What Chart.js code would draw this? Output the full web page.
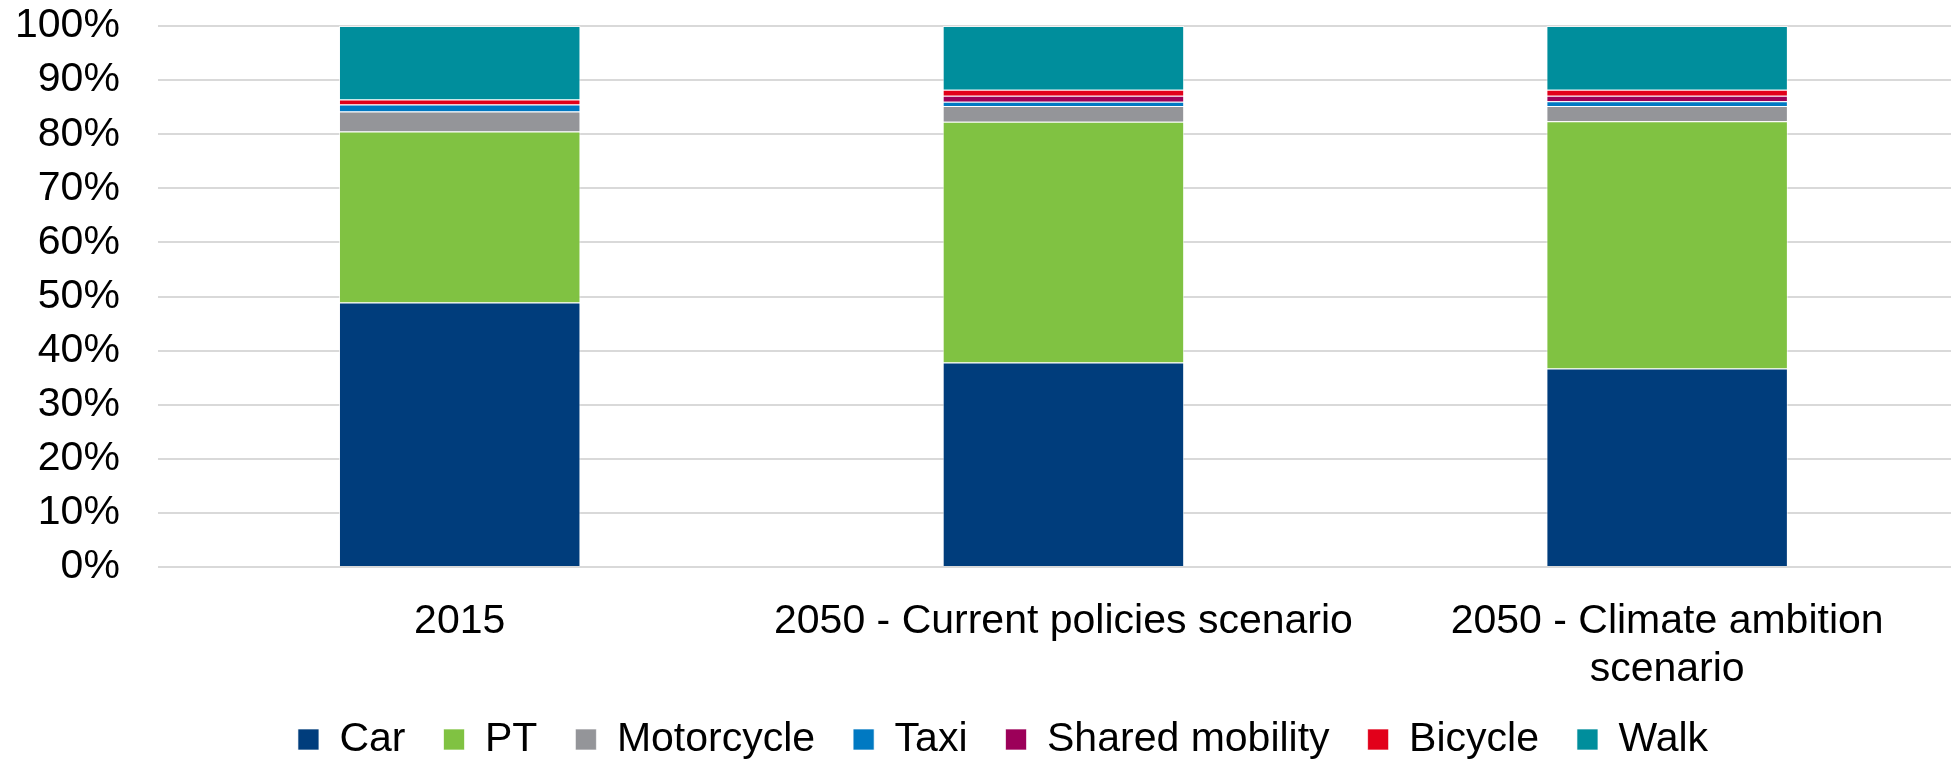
<!DOCTYPE html>
<html>
<head>
<meta charset="utf-8">
<script src="https://cdn.jsdelivr.net/npm/chart.js@4"></script>
<style>
  html, body { margin: 0; padding: 0; background: #ffffff; overflow: hidden; }
  #wrap { position: relative; width: 2006px; height: 770px; }
</style>
</head>
<body>
<div id="wrap"><canvas id="chart"></canvas></div>
<script>
// Mode share of trips (% of total), by scenario
const categories = ['2015', '2050 - Current policies scenario', ['2050 - Climate ambition', 'scenario']];
const car        = [48.9, 37.8, 36.7];
const pt         = [31.6, 44.5, 45.7];
const motorcycle = [3.7, 2.9, 2.8];
const taxi       = [1.3, 0.8, 0.9];
const shared     = [0.0, 1.1, 1.0];
const bicycle    = [0.9, 1.1, 1.1];
const walk       = [13.6, 11.8, 11.8];
const yTicks     = [0, 10, 20, 30, 40, 50, 60, 70, 80, 90, 100];

const FONT = "'Liberation Sans', Arial, sans-serif";

function series(label, data, color) {
  return {
    label, data,
    backgroundColor: color,
    borderColor: 'rgba(255,255,255,0.65)',
    borderWidth: 1,
    categoryPercentage: 0.8,
    barPercentage: 0.5
  };
}

// Centre the legend row on the whole figure rather than on the padded box
const legendCentre = {
  id: 'legendCentre',
  afterLayout(chart) {
    const lg = chart.legend;
    if (lg) { lg.left += 11; lg.right += 11; }
  }
};

new Chart(document.getElementById('chart'), {
  type: 'bar',
  data: {
    labels: categories,
    datasets: [
      series('Car', car, '#003d7c'),
      series('PT', pt, '#80c242'),
      series('Motorcycle', motorcycle, '#949599'),
      series('Taxi', taxi, '#0079c2'),
      series('Shared mobility', shared, '#9c0059'),
      series('Bicycle', bicycle, '#e2001a'),
      series('Walk', walk, '#008e9c')
    ]
  },
  plugins: [legendCentre],
  options: {
    responsive: true,
    maintainAspectRatio: false,
    animation: false,
    layout: { padding: { left: 15, right: 37, top: 26, bottom: 0 } },
    plugins: {
      tooltip: { enabled: false },
      legend: {
        position: 'bottom',
        labels: {
          boxWidth: 21,
          boxHeight: 21,
          padding: 38,
          color: '#000000',
          font: { family: FONT, size: 41 }
        }
      }
    },
    scales: {
      x: {
        stacked: true,
        grid: {
          display: true,
          drawOnChartArea: false,
          color: 'rgba(0,0,0,0)',
          tickColor: 'rgba(0,0,0,0)',
          drawTicks: true,
          tickLength: 31
        },
        border: { display: false },
        afterFit: (axis) => { axis.height = 114; },
        ticks: {
          color: '#000000',
          font: { family: FONT, size: 41, lineHeight: 1.17 },
          maxRotation: 0,
          autoSkip: false,
          padding: 0
        }
      },
      y: {
        stacked: true,
        min: 0,
        max: 100,
        afterBuildTicks: (axis) => { axis.ticks = yTicks.map(v => ({ value: v })); },
        grid: {
          color: '#d9d9d9',
          lineWidth: 2,
          drawTicks: true,
          tickLength: 38,
          tickColor: 'rgba(0,0,0,0)'
        },
        border: { display: false },
        ticks: {
          color: '#000000',
          font: { family: FONT, size: 41 },
          padding: 0,
          autoSkip: false,
          callback: (v) => v + '%'
        }
      }
    }
  }
});
</script>
</body>
</html>
